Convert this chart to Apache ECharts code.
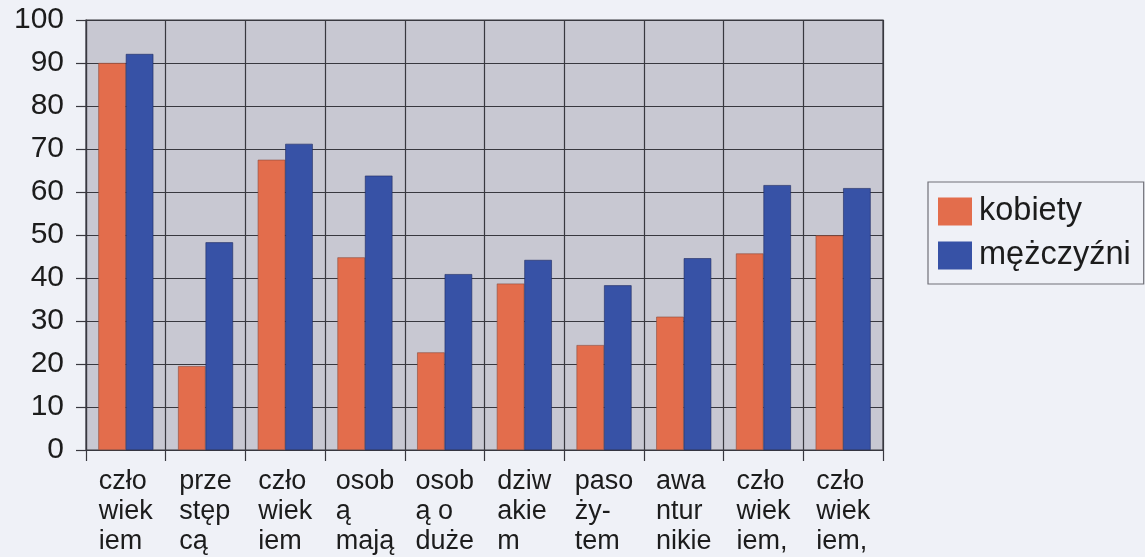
<!DOCTYPE html>
<html>
<head>
<meta charset="utf-8">
<script src="https://cdn.jsdelivr.net/npm/echarts@6/dist/echarts.min.js"></script>
<style>
html,body{margin:0;padding:0;background:#eff1f7;}
#chart{width:1145px;height:557px;}
</style>
</head>
<body>
<div id="chart"></div>
<script>
const categories = [
  ["czło","wiek","iem"],
  ["prze","stęp","cą"],
  ["czło","wiek","iem"],
  ["osob","ą","mają"],
  ["osob","ą o","duże"],
  ["dziw","akie","m"],
  ["paso","ży-","tem"],
  ["awa","ntur","nikie"],
  ["czło","wiek","iem,"],
  ["czło","wiek","iem,"]
];
const kobiety = [90, 19.5, 67.5, 44.8, 22.7, 38.7, 24.4, 31, 45.7, 49.9];
const mezczyzni = [92.1, 48.3, 71.2, 63.8, 40.9, 44.2, 38.3, 44.6, 61.6, 60.9];
const yTicks = {min: 0, max: 100, interval: 10};
const seriesNames = ["kobiety", "mężczyźni"];

const chart = echarts.init(document.getElementById('chart'));
const font = '"Liberation Sans", Arial, sans-serif';
const gridColor = '#38383f';
const textColor = '#1c1c1c';
chart.setOption({
  backgroundColor: '#eff1f7',
  animation: false,
  textStyle: {fontFamily: font, color: textColor},
  grid: {left: 86, right: 262, top: 20, bottom: 107, show: true, backgroundColor: '#c8c8d2', borderColor: gridColor, borderWidth: 1.2},
  legend: {
    orient: 'vertical', left: 928, top: 182,
    padding: [13, 13, 12, 10],
    borderColor: '#707078', borderWidth: 1.2,
    itemWidth: 34, itemHeight: 28, itemGap: 11,
    icon: 'rect',
    itemStyle: {borderWidth: 0},
    textStyle: {fontSize: 32.5, color: textColor, fontFamily: font, padding: [0,0,0,2]},
    data: seriesNames
  },
  xAxis: {
    type: 'category',
    data: categories.map((c, i) => i),
    axisLine: {show: true, lineStyle: {color: gridColor, width: 1.2}},
    axisTick: {show: true, length: 11, lineStyle: {color: gridColor, width: 1.2}},
    splitLine: {show: true, lineStyle: {color: gridColor, width: 1.2}},
    axisLabel: {
      interval: 0, margin: 17,
      formatter: (v) => categories[v].map(s => '{a|' + s + '}').join('\n'),
      rich: {a: {fontSize: 27, lineHeight: 30, align: 'left', color: textColor, fontFamily: font}}
    }
  },
  yAxis: {
    type: 'value', min: yTicks.min, max: yTicks.max, interval: yTicks.interval,
    axisLine: {show: true, lineStyle: {color: gridColor, width: 1.2}},
    axisTick: {show: true, length: 10, lineStyle: {color: gridColor, width: 1.2}},
    splitLine: {show: true, lineStyle: {color: gridColor, width: 1.2}},
    axisLabel: {fontSize: 30, color: textColor, margin: 22, fontFamily: font}
  },
  series: [
    {name: seriesNames[0], type: 'bar', data: kobiety, barGap: '0%', barCategoryGap: '31%',
     itemStyle: {color: '#e36d4c', borderColor: '#8a4a3a', borderWidth: 0.6}},
    {name: seriesNames[1], type: 'bar', data: mezczyzni,
     itemStyle: {color: '#3752a6', borderColor: '#1e2a60', borderWidth: 0.6}}
  ]
});
</script>
</body>
</html>
